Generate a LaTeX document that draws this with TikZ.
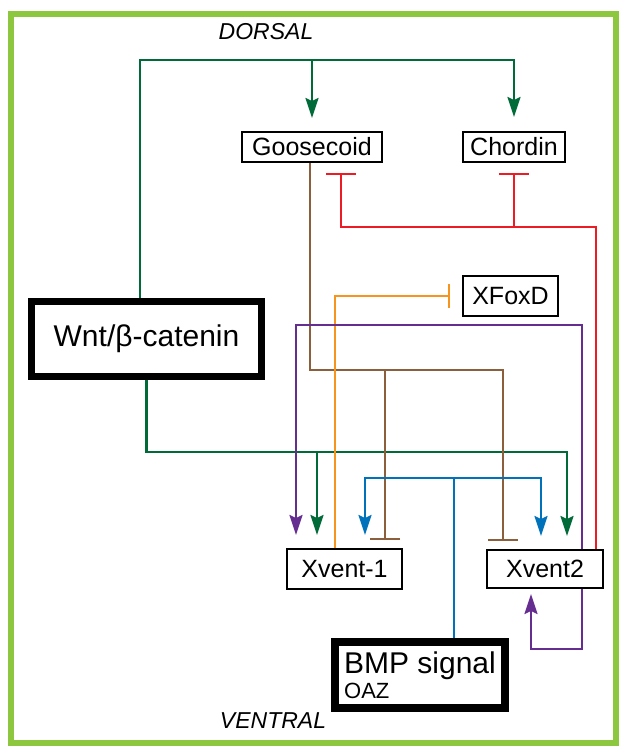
\documentclass[tikz,border=0pt]{standalone}
\usepackage{fontspec}
\setmainfont{Liberation Sans}
\usepackage{xcolor}
\definecolor{frameGreen}{RGB}{141,198,63}
\definecolor{wntGreen}{RGB}{0,106,56}
\definecolor{gscBrown}{RGB}{139,94,60}
\definecolor{chdRed}{RGB}{237,28,36}
\definecolor{foxOrange}{RGB}{247,148,29}
\definecolor{ventPurple}{RGB}{102,45,145}
\definecolor{bmpBlue}{RGB}{0,114,188}
\usetikzlibrary{arrows.meta, positioning}

\begin{document}
\begin{tikzpicture}[x=1pt, y=-1pt,
  gene/.style={rectangle, draw, line width=2pt, inner sep=1pt,
               font=\fontsize{25}{27}\selectfont},
  hub/.style={rectangle, draw, line width=7pt, inner sep=1pt,
              font=\fontsize{30}{30}\selectfont},
  act/.style={-{Stealth[length=20pt, width=13pt, inset=3pt]}, line width=2.2pt},
  inh/.style={-{Bar[width=30pt]}, line width=2.2pt},
  lab/.style={font=\fontsize{23}{25}\selectfont\itshape},
]
  \useasboundingbox (0,0) rectangle (619,746);
  \draw[frameGreen, line width=6pt] (11,14) rectangle (616,743);

  \node[lab] (dorsal) at (266,32) {DORSAL};
  \node[lab] (ventral) at (273,721) {VENTRAL};

  \node[gene, minimum width=140pt, minimum height=30pt] (gsc) at (312,147) {Goosecoid};
  \node[gene, minimum width=102pt, minimum height=30pt, right=79pt of gsc] (chd) {Chordin};
  \node[gene, minimum width=95pt, minimum height=40pt] (xfd) at (510.5,296) {XFoxD};
  \node[hub, minimum width=230pt, minimum height=75pt] (wnt) at (146.5,339) {Wnt/β-catenin};
  \node[gene, minimum width=115pt, minimum height=40pt] (xv1) at (344.5,569) {Xvent-1};
  \node[gene, minimum width=116pt, minimum height=38pt, right=83pt of xv1] (xv2) {Xvent2};
  \node[hub, line width=8pt, minimum width=170pt, minimum height=66pt, align=left] (bmp) at (420,675)
    {BMP signal\\[-5pt]{\fontsize{22}{22}\selectfont OAZ}};

  \coordinate (gtop) at (140,60);
  \coordinate (gbus) at (145,452);
  \coordinate (rbus) at (596,227);
  \coordinate (brbus) at (310,370);
  \coordinate (pbus) at (296,325);
  \coordinate (bbus) at (454,478);

  % Wnt/beta-catenin
  \draw[act, wntGreen] (wnt.north -| gtop) -- (gtop) -| ([yshift=14pt]chd.north);
  \draw[act, wntGreen] (gsc.north |- gtop) -- ([yshift=13pt]gsc.north);
  \draw[act, wntGreen] (wnt.south) -- (wnt.south |- gbus) -| ([xshift=22pt, yshift=13pt]xv2.north);
  \draw[act, wntGreen] ([xshift=-27.5pt]xv1.north |- gbus) -- ([xshift=-27.5pt, yshift=13pt]xv1.north);

  % Chordin / Goosecoid repression
  \draw[inh, chdRed] ([xshift=51pt]xv2.north) -- ([xshift=51pt]xv2.north |- rbus) -| ([xshift=29pt, yshift=-10pt]gsc.south);
  \draw[inh, chdRed] (chd.south |- rbus) -- ([yshift=-10pt]chd.south);

  % Goosecoid
  \draw[inh, gscBrown] ([xshift=-2pt]gsc.south) -- ([xshift=-2pt]gsc.south |- brbus) -| ([xshift=-42pt, yshift=8pt]xv2.north);
  \draw[inh, gscBrown] ([xshift=40.5pt]xv1.north |- brbus) -- ([xshift=40.5pt, yshift=8pt]xv1.north);

  % XFoxD
  \draw[inh, foxOrange, -{Bar[width=24pt]}] ([xshift=-9.5pt]xv1.north) |- ([xshift=-12pt]xfd.west);

  % Xvent2
  \draw[act, ventPurple] ([xshift=37pt]xv2.north) |- (pbus) -- ([yshift=13pt]pbus |- xv1.north);
  \draw[act, ventPurple] ([xshift=37pt]xv2.south) -- ++(0,60) -| ([xshift=-14pt, yshift=-5pt]xv2.south);

  % BMP
  \draw[act, bmpBlue] ([xshift=34pt]bmp.north) -- ([xshift=34pt]bmp.north |- bbus) -| ([xshift=20.5pt, yshift=13pt]xv1.north);
  \draw[act, bmpBlue] ([xshift=34pt]bmp.north |- bbus) -| ([xshift=-4pt, yshift=13pt]xv2.north);
\end{tikzpicture}
\end{document}
